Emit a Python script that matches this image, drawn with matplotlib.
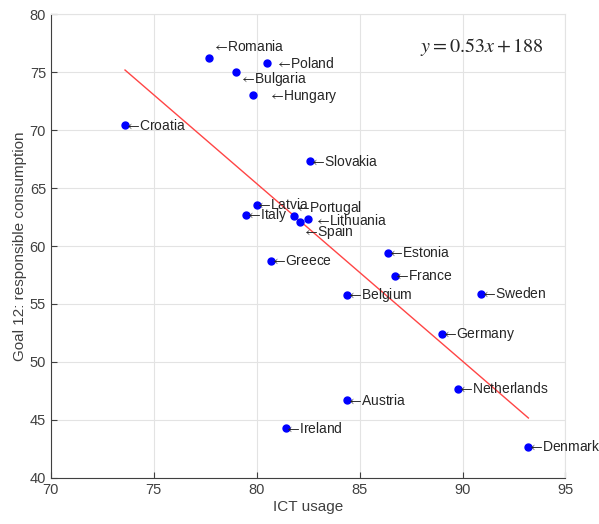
import numpy as np
import matplotlib
matplotlib.use("Agg")
import matplotlib.pyplot as plt

countries = ["Romania", "Poland", "Bulgaria", "Hungary", "Croatia", "Slovakia",
             "Latvia", "Italy", "Portugal", "Spain", "Lithuania", "Greece",
             "Estonia", "France", "Belgium", "Sweden", "Germany", "Netherlands",
             "Austria", "Ireland", "Denmark"]
ict_usage = [77.7, 80.5, 79.0, 79.8, 73.6, 82.6,
             80.0, 79.5, 81.8, 82.1, 82.5, 80.7,
             86.4, 86.7, 84.4, 90.9, 89.0, 89.8,
             84.4, 81.4, 93.2]
goal12 = [76.2, 75.8, 75.0, 73.0, 70.4, 67.3,
          63.5, 62.7, 62.6, 62.1, 62.3, 58.7,
          59.4, 57.4, 55.8, 55.9, 52.4, 47.7,
          46.7, 44.3, 42.7]
equation = "$y = 0.53x + 188$"

# label offsets in points (default: text right at the marker)
offsets = {"Romania": (2.7, 8.1), "Poland": (6.7, -0.7), "Bulgaria": (3.1, -5.3),
           "Hungary": (12.2, -1), "Portugal": (1.5, 6), "Spain": (2.4, -7.5),
           "Lithuania": (5.3, -0.7), "Latvia": (0, 0.5)}

plt.rcParams["font.family"] = ["Liberation Sans", "DejaVu Sans"]
plt.rcParams["mathtext.fontset"] = "stix"

fig = plt.figure(figsize=(5.99, 5.24), dpi=100)
ax = fig.add_axes([0.085, 0.088, 0.859, 0.885])

ax.plot(ict_usage, goal12, "o", color="#0000ff", markersize=5, zorder=3)

coef = np.polyfit(ict_usage, goal12, 1)
xs = np.array([min(ict_usage), max(ict_usage)])
ax.plot(xs, np.polyval(coef, xs), color="#ff4545", lw=1, zorder=2)

for name, x, y in zip(countries, ict_usage, goal12):
    dx, dy = offsets.get(name, (0, 0))
    ax.annotate(r"$\leftarrow\!$" + name, (x, y), xytext=(dx - 1, dy), textcoords="offset points",
                ha="left", va="center", fontsize=10, color="#262626", zorder=4)

ax.text(0.837, 0.929, equation, transform=ax.transAxes, ha="center", va="center",
        fontsize=14.5, color="#262626")

ax.set_xlim(70, 95)
ax.set_ylim(40, 80)
ax.set_xticks(range(70, 96, 5))
ax.set_yticks(range(40, 81, 5))
ax.grid(True, color="#e3e3e3", lw=0.8)
ax.set_axisbelow(True)
ax.tick_params(direction="in", colors="#404040", labelsize=10.5, length=4)
for s in ["left", "bottom"]:
    ax.spines[s].set_color("#404040")
for s in ["top", "right"]:
    ax.spines[s].set_color("#e3e3e3")

ax.set_xlabel("ICT usage", fontsize=11, color="#404040", labelpad=2)
ax.set_ylabel("Goal 12: responsible consumption", fontsize=11, color="#404040", labelpad=2)

plt.savefig("out.png")
